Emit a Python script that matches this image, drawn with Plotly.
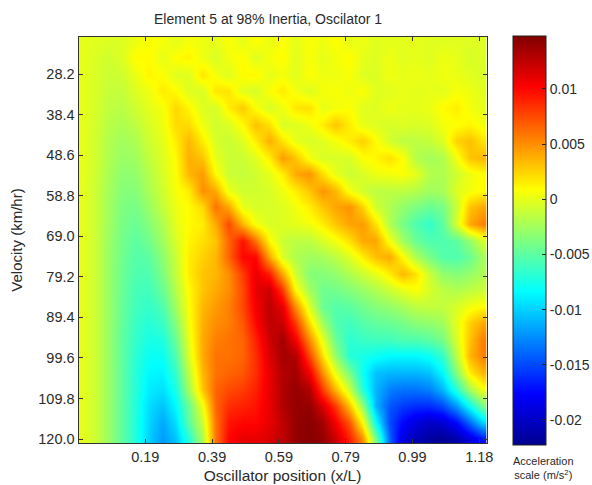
import plotly.graph_objects as go

title = "Element 5 at 98% Inertia, Oscilator 1"
x_label = "Oscillator position (x/L)"
y_label = "Velocity (km/hr)"
cb_label = "Acceleration<br>scale (m/s<sup>2</sup>)"
x_ticks = [0.197, 0.394, 0.591, 0.788, 0.985, 1.182]
x_ticktext = ["0.19", "0.39", "0.59", "0.79", "0.99", "1.18"]
y_ticks = [28.2, 38.4, 48.6, 58.8, 69.0, 79.2, 89.4, 99.6, 109.8, 120.0]
y_ticktext = ["28.2", "38.4", "48.6", "58.8", "69.0", "79.2", "89.4", "99.6", "109.8", "120.0"]
cb_ticks = [0.01, 0.005, 0, -0.005, -0.01, -0.015, -0.02]
cb_ticktext = ["0.01", "0.005", "0", "-0.005", "-0.01", "-0.015", "-0.02"]

velocity = [20 + k * 100 / 24 for k in range(25)]
position = [0.0103 + j * 0.0394 for j in range(31)]

# acceleration, in thousandths of m/s2
accel_milli = [
[0,-.2,-.4,-.3,.3,.8,.6,0,.6,.3,0,.8,0,.9,.2,.8,0,.8,.3,.9,0,.3,-.2,0,-.1,0,-.2,-.2,-.2,-.3,-.3],
[0,-.4,-.8,-.3,1.0,1.0,0,.9,1.3,.3,-.5,.5,1.0,-.3,.6,1.0,-.2,.7,0,.5,1.0,0,-.3,.3,-.2,0,-.3,.3,0,-.5,-.3],
[0,-.5,-1,-.8,.2,1.2,.8,-.2,-.3,1.8,.5,-.3,1.0,1.2,0,.5,-.2,.9,.3,.3,.7,-.3,-.4,.4,0,.3,0,.4,.2,-.2,-.5],
[0,-.5,-1.2,-1.2,-.3,.3,1.6,1,-.3,-.5,1.8,1.8,-.2,-.6,.8,1.6,.5,-.4,.6,.7,.3,.8,-.2,-.2,.2,-.1,.1,-.1,.6,.3,-.2],
[0,-.6,-1.4,-1.6,-.8,-.1,.6,2.3,1.2,-.3,-.6,1.5,2.8,.8,-.5,.3,1.8,2,0,.5,.8,-.2,-.3,.3,0,0,.2,1,1.5,.5,0],
[0,-.7,-1.7,-2,-1.5,-.5,.3,2.2,2.2,.3,-.8,-.4,1,3.2,2,-.5,-.3,.3,1.5,3,1.5,0,-.3,-.6,-.3,-.5,-.3,.5,.8,1.2,.5],
[0,-.8,-1.9,-2.5,-2,-.9,0,1.5,3.5,1.5,-.6,-1,-.3,1.5,3.8,1.8,0,-.5,-.2,.6,1.5,2.6,1,-.7,-1.5,-1.5,-1.2,-.3,2.5,3.2,1.8],
[0,-.8,-2,-2.8,-2.5,-1.3,-.3,1,3.8,3,0,-1,-1,-.2,1.5,4.5,3,.5,-.5,-.5,-.5,.8,1.2,2,.8,-1.8,-2.4,-2,.5,3,3.5],
[0,-.9,-2.2,-3.2,-3,-1.8,-.5,.8,3.5,4.5,1,-1,-1.2,-.8,0,1.5,4,4.8,2,0,-1,-.5,.3,.5,.8,0,-1.8,-2,-.8,.3,1],
[0,-1,-2.4,-3.5,-3.5,-2.2,-.8,.6,1.5,5,4,.2,-.8,-.8,-.5,.3,1.5,3,4.8,3.5,.5,-.8,-1.5,-1.5,-1.5,-1.8,-2.5,-2.3,-.3,.5,1],
[0,-1,-2.5,-3.8,-4,-2.8,-1.2,.3,1,2.2,6,4,0,-.5,-.5,-.3,.5,1.5,3,4.2,4.8,2.5,-.8,-2,-3,-3.8,-4.5,-4,-1,3,4],
[0,-1,-2.5,-4,-4.5,-3.5,-2,0,1,1.5,4,7.5,3.5,.5,-.5,-.3,0,.5,1.5,3,4.2,4.5,2,-2,-4,-5.5,-6.5,-5,-.5,4,5.5],
[0,-1,-2.7,-4.2,-5,-4.2,-2.5,-.5,1.2,2,3,6.5,9.5,6,1,-1,-1.5,-1.5,-.5,.5,2,4,4.2,.5,-2.5,-4.5,-5.5,-5.5,-5,-3,-.5],
[0,-1,-2.8,-4.3,-5.3,-5,-3.2,-1,1.5,2.5,3.5,6.5,10,10,4,-.5,-2,-2.5,-2.3,-1.5,-.3,1.5,3.2,4,1,-2,-4,-5.3,-5.5,-4.5,-2.5],
[0,-1,-2.8,-4.5,-5.5,-5.5,-3.8,-1.2,1.5,3,3.5,5,8,11,9,4,-1,-3.5,-3.5,-3,-2,-1,0,1.5,3.5,2,-1,-3,-3.5,-3,-2],
[0,-1,-2.8,-4.6,-5.8,-6,-4.5,-1.8,1,3,4,5,7.5,11,12,8,1,-2.5,-4.3,-4.2,-3.5,-2.8,-2,-1,0,.8,-.5,-1.5,-2,-1.5,-1],
[0,-1,-2.8,-4.7,-6,-6.5,-5.5,-2.5,.8,3.5,4.5,5.5,7.5,10.5,12.5,11,5,-.5,-4.5,-5.3,-5,-4.2,-3.5,-3,-2.3,-1.5,-1.3,-1.3,-.5,.5,1],
[0,-1,-2.8,-4.8,-6.3,-7,-6.3,-3.5,.5,3.8,5,5.5,7,10,12.5,12,8,2,-2.5,-5.5,-6,-5.3,-4.8,-4.5,-4,-3.3,-3,-2.5,0,2.5,4],
[0,-1,-2.8,-5,-6.5,-7.5,-7.3,-4.5,0,4,5.5,6,6.5,9,12,13.5,10.5,5,0,-4.5,-6.8,-6.3,-6,-6,-5.5,-5.5,-5,-4,-.5,3,5.5],
[0,-1,-2.8,-5,-6.8,-8,-8,-5.5,-.5,4,6,6,6.5,8.5,11.5,13.5,13,7.5,2,-3,-7,-7.5,-8,-8.5,-8.5,-8.5,-8,-6.5,-1.5,3.5,5.5],
[0,-1,-2.8,-5,-7,-8.5,-8.7,-6.5,-1.5,3.5,6,6.5,7,8.5,11,13,13.5,10.5,5,0,-4,-8,-10.5,-11,-11,-11,-10.5,-8.5,-3.5,1.5,3.5],
[0,-1,-2.8,-5,-7,-9,-9.5,-7.5,-2.5,3,6.5,7.5,8,9,11,13,14,13,8,3.5,-1,-7,-11,-13,-13.5,-13.5,-13,-11,-7,-2.5,.5],
[0,-1,-2.8,-5,-7.2,-9.5,-10.5,-8.5,-4.5,.5,6.5,8.5,9,9.5,11,13,14,14,11.5,8,3,-3,-11,-14.5,-15.5,-16,-16,-15,-12,-8,-4],
[0,-1,-2.8,-5,-7.2,-9.8,-11.5,-9.5,-5,-1,6,9.5,10,10,11,12.5,14,14.5,13.5,10.5,7,1,-8,-15,-17.5,-19,-20,-19.5,-17.5,-14,-10],
[0,-1,-2.8,-5,-7.2,-10,-12,-10.5,-7,-2,6,10,11,11,11.5,12.5,14,14.5,14,12,9,5,-4,-14,-19,-20.5,-21.5,-22,-21,-19,-17],
]
accel = [[v / 1000 for v in row] for row in accel_milli]

W, H = 592, 485
FONT = "Liberation Sans"
INK = "#2a2a2a"
jet = [[0, "#00008f"], [0.125, "#0000ff"], [0.375, "#00ffff"],
       [0.625, "#ffff00"], [0.875, "#ff0000"], [1, "#800000"]]

fig = go.Figure(go.Heatmap(
    x=position, y=velocity, z=accel, zsmooth="best",
    zmin=-0.02227, zmax=0.0148, colorscale=jet,
    colorbar=dict(
        x=511 / W, xanchor="left",
        y=1 - 36 / H, yanchor="top",
        lenmode="pixels", len=409, thicknessmode="pixels", thickness=33,
        outlinewidth=1, outlinecolor="#222222",
        tickmode="array", tickvals=cb_ticks, ticktext=cb_ticktext,
        ticks="inside", ticklen=4, tickcolor="#222222",
        tickfont=dict(family=FONT, size=14, color=INK), ypad=0, xpad=2,
    ),
))
axis_common = dict(
    showline=True, linecolor="#333333", linewidth=1, mirror="ticks",
    ticks="inside", ticklen=4, tickcolor="#333333", showgrid=False, zeroline=False,
    tickfont=dict(family=FONT, size=14.5, color=INK), tickmode="array", automargin=True,
)
fig.update_layout(
    width=W, height=H, margin=dict(l=0, r=0, t=0, b=0, autoexpand=False),
    paper_bgcolor="white", plot_bgcolor="white",
    title=dict(text=title, x=268 / W, xanchor="center", y=1 - 19 / H, yanchor="middle",
               automargin=False, font=dict(family=FONT, size=14, color=INK)),
    xaxis=dict(axis_common, domain=[78.5 / W, 486.7 / W], range=[0, 1.204],
               tickvals=x_ticks, ticktext=x_ticktext,
               title=dict(text=x_label, standoff=6, font=dict(family=FONT, size=15.5, color=INK))),
    yaxis=dict(axis_common, domain=[1 - 443.3 / H, 1 - 36.7 / H], range=[121.08, 18.82],
               tickvals=y_ticks, ticktext=y_ticktext,
               title=dict(text=y_label, standoff=12, font=dict(family=FONT, size=15, color=INK))),
    annotations=[dict(text=cb_label, xref="paper", yref="paper", showarrow=False,
                      x=543 / W, xanchor="center", y=1 - 468 / H, yanchor="middle",
                      font=dict(family=FONT, size=11, color=INK))],
)
fig.write_html("out.html", post_script="document.body.style.margin='0';",
               config={"displayModeBar": False})
